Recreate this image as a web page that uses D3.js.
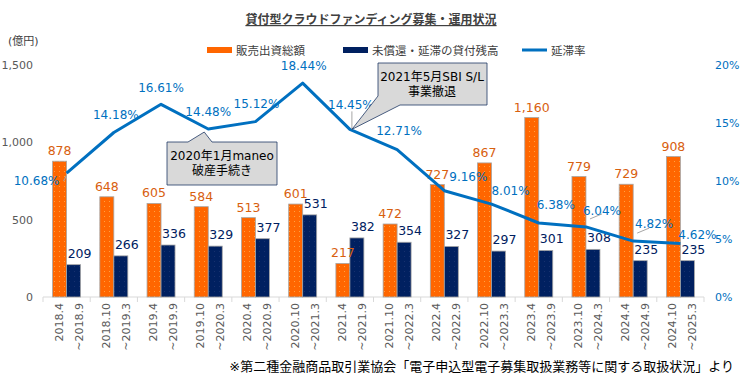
<!DOCTYPE html>
<meta charset="utf-8">
<style>
body { margin: 0; background: #fff; font-family: "DejaVu Sans", "Noto Sans CJK JP", sans-serif; }
.axis path, .axis line { fill: none; }
</style>
<body>
<svg width="742" height="384"></svg>
<script src="https://d3js.org/d3.v7.min.js"></script>
<script>

// periods (two-line labels)
var periodStart = ["2018.4","2018.10","2019.4","2019.10","2020.4","2020.10","2021.4","2021.10","2022.4","2022.10","2023.4","2023.10","2024.4","2024.10"];
var periodEnd = ["~2018.9","~2019.3","~2019.9","~2020.3","~2020.9","~2021.3","~2021.9","~2022.3","~2022.9","~2023.3","~2023.9","~2024.3","~2024.9","~2025.3"];

// 販売出資総額 (億円)
var sales = [878, 648, 605, 584, 513, 601, 217, 472, 727, 867, 1160, 779, 729, 908];
// 未償還・延滞の貸付残高 (億円)
var outstanding = [209, 266, 336, 329, 377, 531, 382, 354, 327, 297, 301, 308, 235, 235];
// 延滞率 (%)
var rate = [10.68, 14.18, 16.61, 14.48, 15.12, 18.44, 14.45, 12.71, 9.16, 8.01, 6.38, 6.04, 4.82, 4.62];

var leftTicks = [0, 500, 1000, 1500];
var rightTicks = [0, 5, 10, 15, 20];

// label placement tweaks for the rate labels (offset from point)
var rateLabelDx = [-30, 2, 0, 0, 1, 1, 1, 2, 24, 19, 17, 16, 21, 17];
var rateLabelDy = [8, -18, -17, -17, -18, -17, -25, -19, -14, -13, -18, -16, -17, -9];

var orange = "#FF6600", navy = "#002060", blue = "#0070C0", grey = "#595959";

var svg = d3.select("svg"),
    margin = {top: 65, right: 38, bottom: 87, left: 43},
    width = 742 - margin.left - margin.right,
    height = 384 - margin.top - margin.bottom;

// dotted textures like the original bars
var defs = svg.append("defs");
function dots(id, base, dot) {
  var p = defs.append("pattern").attr("id", id).attr("patternUnits", "userSpaceOnUse")
    .attr("width", 5).attr("height", 5);
  p.append("rect").attr("width", 5).attr("height", 5).attr("fill", base);
  p.append("rect").attr("x", 1).attr("y", 1).attr("width", 1).attr("height", 1).attr("fill", dot);
}
dots("pOrange", orange, "#FFA040");
dots("pNavy", navy, "#16306e");

var g = svg.append("g").attr("transform", "translate(" + margin.left + "," + margin.top + ")");

var x = d3.scaleBand().domain(d3.range(sales.length)).range([0, width]).paddingInner(0).paddingOuter(0);
var barW = 14;
var y = d3.scaleLinear().domain([0, 1500]).range([height, 0]);
var y2 = d3.scaleLinear().domain([0, 20]).range([height, 0]);

// title
svg.append("text")
  .attr("x", 371).attr("y", 24)
  .attr("text-anchor", "middle")
  .style("font-size", "12px").style("font-weight", "bold")
  .style("text-decoration", "underline")
  .attr("fill", "#404040")
  .text("貸付型クラウドファンディング募集・運用状況");

// unit
svg.append("text").attr("x", 8).attr("y", 45).style("font-size", "11px").attr("fill", "#404040").text("(億円)");

// legend
var legend = [
  {label: "販売出資総額", color: orange, x: 207, type: "bar"},
  {label: "未償還・延滞の貸付残高", color: navy, x: 343, type: "bar"},
  {label: "延滞率", color: blue, x: 522, type: "line"}
];
var lg = svg.append("g").selectAll("g").data(legend).enter().append("g")
  .attr("transform", function(d) { return "translate(" + d.x + ",50)"; });
lg.append("rect")
  .attr("y", function(d) { return d.type === "bar" ? -3 : -1.5; })
  .attr("width", 25)
  .attr("height", function(d) { return d.type === "bar" ? 6 : 3; })
  .attr("fill", function(d) { return d.color; });
lg.append("text").attr("x", 29).attr("y", 4.5).style("font-size", "11.5px").attr("fill", "#404040")
  .text(function(d) { return d.label; });

// left axis
var yAxis = g.append("g").attr("class", "axis")
  .call(d3.axisLeft(y).tickValues(leftTicks).tickSize(0).tickPadding(10).tickFormat(d3.format(",")));
yAxis.select(".domain").remove();
yAxis.selectAll("text").attr("fill", grey).style("font-size", "11px").style("font-family", "DejaVu Sans");

// right axis
var y2Axis = g.append("g").attr("class", "axis").attr("transform", "translate(" + width + ",0)")
  .call(d3.axisRight(y2).tickValues(rightTicks).tickSize(0).tickPadding(11).tickFormat(function(d) { return d + "%"; }));
y2Axis.select(".domain").remove();
y2Axis.selectAll("text").attr("fill", blue).style("font-size", "11px").style("font-family", "DejaVu Sans");

// x axis baseline with category separators
var xAxis = g.append("g").attr("class", "axis").attr("transform", "translate(0," + height + ")");
xAxis.append("line").attr("x1", 0).attr("x2", width).attr("stroke", "#D9D9D9");
xAxis.selectAll(".sep").data(d3.range(sales.length + 1)).enter().append("line")
  .attr("x1", function(d) { return d * x.bandwidth(); })
  .attr("x2", function(d) { return d * x.bandwidth(); })
  .attr("y1", 0).attr("y2", 5).attr("stroke", "#D9D9D9");

var xl = xAxis.selectAll(".xl").data(d3.range(sales.length)).enter().append("g")
  .attr("transform", function(i) { return "translate(" + (x(i) + x.bandwidth() / 2) + ",6)"; });
xl.append("text")
  .attr("transform", "rotate(-90)")
  .attr("x", 0).attr("y", -4)
  .attr("text-anchor", "end")
  .style("font-size", "11px").attr("fill", grey)
  .text(function(i) { return periodStart[i]; });
xl.append("text")
  .attr("transform", "rotate(-90)")
  .attr("x", 0).attr("y", 16)
  .attr("text-anchor", "end")
  .style("font-size", "11px").attr("fill", grey)
  .text(function(i) { return periodEnd[i]; });

// bars
function cx(i) { return x(i) + x.bandwidth() / 2; }
g.selectAll(".bar-s").data(sales).enter().append("rect")
  .attr("x", function(d, i) { return cx(i) - barW; })
  .attr("y", function(d) { return y(d); })
  .attr("width", barW)
  .attr("height", function(d) { return height - y(d); })
  .attr("fill", "url(#pOrange)")
  .attr("stroke", "#A6A6A6").attr("stroke-width", 0.8);

g.selectAll(".bar-o").data(outstanding).enter().append("rect")
  .attr("x", function(d, i) { return cx(i); })
  .attr("y", function(d) { return y(d); })
  .attr("width", barW)
  .attr("height", function(d) { return height - y(d); })
  .attr("fill", "url(#pNavy)")
  .attr("stroke", "#A6A6A6").attr("stroke-width", 0.8);

// bar labels
g.selectAll(".lab-s").data(sales).enter().append("text")
  .attr("x", function(d, i) { return cx(i) - barW / 2; })
  .attr("y", function(d) { return y(d) - 6; })
  .attr("text-anchor", "middle")
  .style("font-size", "12.5px").attr("fill", "#D8600F")
  .text(d3.format(","));

g.selectAll(".lab-o").data(outstanding).enter().append("text")
  .attr("x", function(d, i) { return cx(i) + barW / 2 + 6; })
  .attr("y", function(d) { return y(d) - 7; })
  .attr("text-anchor", "middle")
  .style("font-size", "12.5px").attr("fill", navy)
  .text(function(d) { return d; });

// rate line
var line = d3.line()
  .x(function(d, i) { return cx(i); })
  .y(function(d) { return y2(d); });
g.append("path").datum(rate)
  .attr("d", line)
  .attr("fill", "none")
  .attr("stroke", blue)
  .attr("stroke-width", 3)
  .attr("stroke-linejoin", "round");

// leader lines for a few labels
var leaders = [0, 6, 11, 12];
g.selectAll(".leader").data(leaders).enter().append("line")
  .attr("x1", function(i) { return cx(i) + (i === 0 ? -3 : i === 6 ? 2 : 4); })
  .attr("y1", function(i) { return y2(rate[i]) + (i === 0 ? 8 : i === 6 ? -18 : -8); })
  .attr("x2", function(i) { return cx(i) + (i === 0 ? 0 : i === 6 ? 2 : 16); })
  .attr("y2", function(i) { return y2(rate[i]) + (i === 0 ? 2 : i === 6 ? 0 : -13); })
  .attr("stroke", "#A6A6A6").attr("stroke-width", 1);

g.selectAll(".lab-r").data(rate).enter().append("text")
  .attr("x", function(d, i) { return cx(i) + rateLabelDx[i]; })
  .attr("y", function(d, i) { return y2(d) + rateLabelDy[i]; })
  .attr("dy", "0.35em")
  .attr("text-anchor", "middle")
  .style("font-size", "12px").attr("fill", blue)
  .text(function(d) { return d.toFixed(2) + "%"; });

// callouts
function callout(pts, lines, tx, ty) {
  svg.append("path")
    .attr("d", "M" + pts.join("L") + "Z")
    .attr("fill", "#D9D9D9").attr("stroke", "#1F3864").attr("stroke-width", 0.8);
  svg.append("text").attr("x", tx).attr("y", ty).attr("text-anchor", "middle")
    .style("font-size", "12px").attr("fill", "#000")
    .selectAll("tspan").data(lines).enter().append("tspan")
    .attr("x", tx).attr("dy", function(d, i) { return i ? 15 : 0; })
    .text(function(d) { return d; });
}
var p1 = [margin.left + cx(3), margin.top + y2(rate[3])];
callout([[167, 142], [188, 142], [p1[0] - 4, p1[1] + 3], [212, 142], [277, 142], [277, 185], [167, 185]],
  ["2020年1月maneo", "破産手続き"], 222, 160);
var p2 = [margin.left + cx(6), margin.top + y2(rate[6])];
callout([[378, 63], [487, 63], [487, 105], [400, 105], [p2[0] + 2, p2[1]], [378, 96]],
  ["2021年5月SBI S/L", "事業撤退"], 432, 81);

// source note
svg.append("text")
  .attr("x", 734).attr("y", 371)
  .attr("text-anchor", "end")
  .style("font-size", "13px").attr("fill", "#000")
  .text("※第二種金融商品取引業協会「電子申込型電子募集取扱業務等に関する取扱状況」より");

</script>
</body>
